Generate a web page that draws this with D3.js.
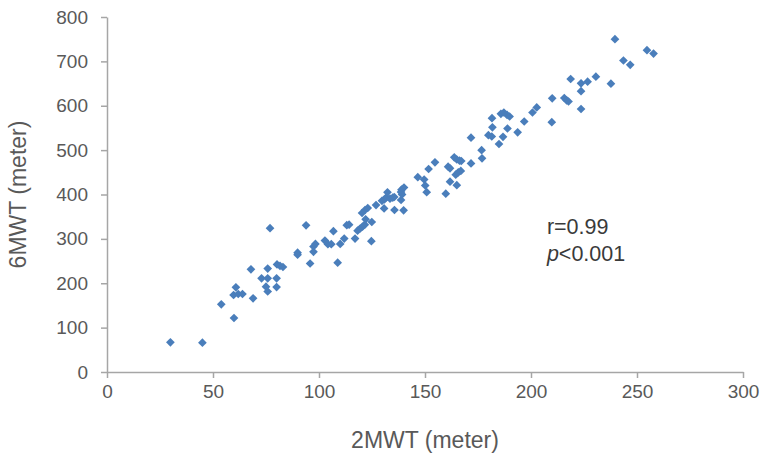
<!DOCTYPE html>
<html lang="en">
<head>
<meta charset="utf-8">
<title>2MWT vs 6MWT</title>
<style>
  body { margin: 0; background: #fff; }
  svg { font-family: "Liberation Sans", Arial, sans-serif; }
  .axis path, .axis line { stroke: #a6a6a6; stroke-width: 1.5; }
  .axis text { fill: #595959; font-size: 19px; }
  .title { fill: #595959; font-size: 23px; }
  .note { fill: #3a3a3a; font-size: 21.5px; }
</style>
</head>
<body>
<script src="https://cdn.jsdelivr.net/npm/d3@7"></script>
<script>
// 2MWT (meter)
var mwt2 = [29.9, 45.0, 53.9, 59.9, 60.8, 59.7, 61.9, 63.9, 68.9, 67.9,
  76.9, 75.8, 72.9, 75.8, 80.0, 75.0, 75.8, 80.0, 80.2, 81.6,
  83.0, 93.9, 89.9, 89.9, 95.8, 97.4, 98.3, 97.4, 102.8, 104.2,
  105.8, 106.8, 108.8, 110.0, 111.9, 113.1, 114.2, 117.0, 118.2, 119.4,
  120.5, 121.6, 122.0, 120.3, 121.7, 123.0, 124.9, 124.7, 126.9, 130.7,
  129.7, 130.9, 131.8, 132.3, 133.5, 134.8, 135.5, 135.6, 139.9, 138.9,
  140.1, 138.7, 138.7, 139.2, 146.6, 149.6, 150.1, 150.8, 151.7, 154.7,
  159.8, 160.9, 161.8, 161.8, 163.8, 165.0, 166.3, 167.1, 164.5, 165.7,
  166.9, 165.0, 171.7, 171.7, 176.7, 176.9, 179.9, 181.5, 181.6, 181.8,
  184.9, 186.8, 185.8, 187.2, 188.7, 189.9, 188.9, 193.7, 196.8, 200.7,
  202.7, 209.8, 210.0, 215.7, 216.8, 217.7, 218.7, 223.6, 223.6, 223.6,
  226.7, 230.6, 237.7, 239.6, 243.6, 246.8, 254.7, 257.8];

// 6MWT (meter), same order
var mwt6 = [66.9, 66.0, 152.6, 121.7, 190.9, 173.5, 175.8, 175.8, 166.1, 231.4,
  324.1, 233.2, 211.2, 211.2, 211.2, 192.2, 181.4, 191.5, 242.3, 239.3,
  236.6, 330.6, 268.8, 264.3, 244.5, 282.8, 288.5, 270.9, 296.3, 288.0,
  288.0, 317.3, 246.3, 288.5, 300.8, 330.8, 331.9, 300.8, 318.4, 323.4,
  327.4, 331.9, 344.1, 358.3, 365.1, 369.6, 338.0, 294.8, 376.3, 368.5,
  385.8, 389.2, 393.7, 405.0, 390.5, 393.2, 394.4, 365.1, 364.4, 410.8,
  415.8, 387.6, 405.4, 400.0, 439.0, 433.8, 420.3, 405.2, 457.5, 472.6,
  401.8, 462.6, 459.0, 428.8, 483.8, 478.9, 476.2, 475.5, 444.6, 450.0,
  453.0, 421.0, 469.9, 528.0, 499.8, 481.6, 533.6, 530.7, 571.9, 551.4,
  513.8, 530.0, 581.9, 584.8, 579.2, 575.8, 548.7, 540.2, 564.5, 584.8,
  596.1, 562.9, 616.8, 617.5, 612.3, 609.6, 660.3, 592.7, 632.8, 650.6,
  654.2, 665.5, 649.7, 750.0, 702.0, 692.3, 725.2, 717.7];

var xTicks = [0, 50, 100, 150, 200, 250, 300];
var yTicks = [0, 100, 200, 300, 400, 500, 600, 700, 800];

var width = 761, height = 453;
var margin = { top: 17, right: 18, bottom: 81, left: 107 };

var svg = d3.select("body").append("svg")
  .attr("width", width).attr("height", height);

var x = d3.scaleLinear().domain([0, 300]).range([margin.left, width - margin.right]);
var y = d3.scaleLinear().domain([0, 800]).range([height - margin.bottom, margin.top]);

svg.append("g").attr("class", "axis")
  .attr("transform", "translate(0," + y(0) + ")")
  .call(d3.axisBottom(x).tickValues(xTicks).tickSize(6).tickPadding(7).tickSizeOuter(0));

svg.append("g").attr("class", "axis")
  .attr("transform", "translate(" + x(0) + ",0)")
  .call(d3.axisLeft(y).tickValues(yTicks).tickSize(6).tickPadding(13).tickSizeOuter(0));

// excel-style diamond: a square turned 45 degrees
var diamond = d3.symbol().type(d3.symbolSquare).size(38);

svg.append("g").selectAll("path")
  .data(mwt2.map(function(d, i) { return [d, mwt6[i]]; }))
  .join("path")
  .attr("d", diamond)
  .attr("fill", "#4a7ebb")
  .attr("transform", function(d) {
    return "translate(" + x(d[0]) + "," + y(d[1]) + ") rotate(45)";
  });

svg.append("text").attr("class", "title")
  .attr("x", (x(0) + x(300)) / 2).attr("y", 448)
  .attr("text-anchor", "middle").text("2MWT (meter)");

svg.append("text").attr("class", "title")
  .attr("transform", "translate(26," + (y(0) + y(800)) / 2 + ") rotate(-90)")
  .attr("text-anchor", "middle").text("6MWT (meter)");

svg.append("text").attr("class", "note").attr("x", x(207.5)).attr("y", 234).text("r=0.99");
var line2 = svg.append("text").attr("class", "note").attr("x", x(207.5)).attr("y", 261);
line2.append("tspan").style("font-style", "italic").text("p");
line2.append("tspan").text("<0.001");
</script>
</body>
</html>
